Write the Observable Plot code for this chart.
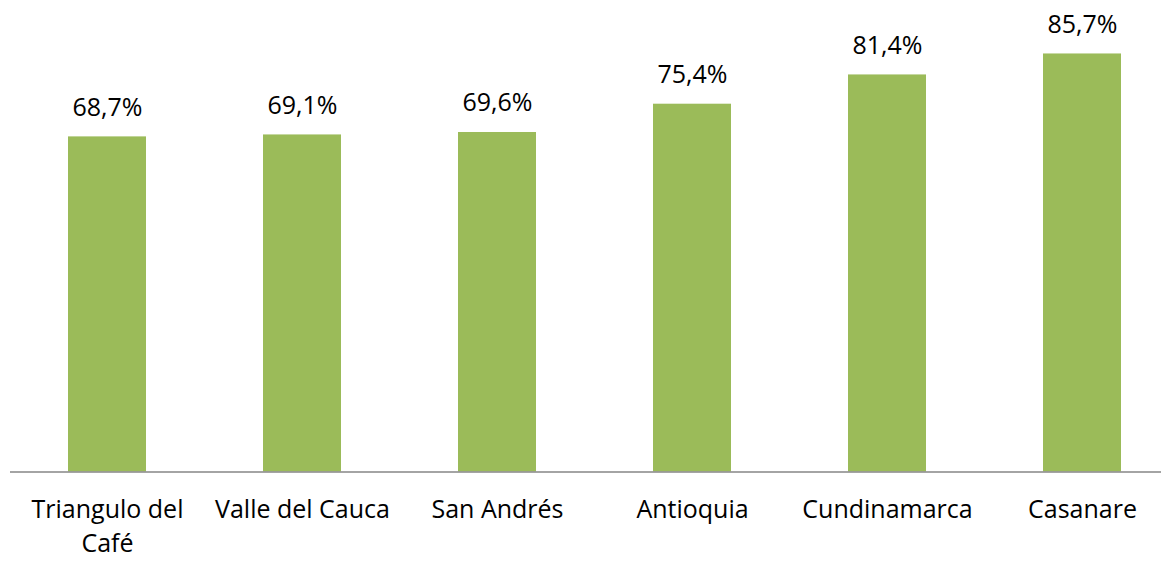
<!DOCTYPE html>
<html>
<head>
<meta charset="utf-8">
<script src="https://cdn.jsdelivr.net/npm/d3@7"></script>
<script src="https://cdn.jsdelivr.net/npm/@observablehq/plot@0.6"></script>
<style>
  html, body { margin: 0; padding: 0; background: #fff; }
  #chart { width: 1161px; height: 564px; overflow: hidden; }
</style>
</head>
<body>
<div id="chart"></div>
<script>
const categories = ["Triangulo del Café", "Valle del Cauca", "San Andrés", "Antioquia", "Cundinamarca", "Casanare"];
const tickLabels = ["Triangulo del\nCafé", "Valle del Cauca", "San Andrés", "Antioquia", "Cundinamarca", "Casanare"];
const values = [68.7, 69.1, 69.6, 75.4, 81.4, 85.7];

const data = categories.map((c, i) => ({category: c, value: values[i], label: tickLabels[i]}));
const fmt = v => v.toFixed(1).replace(".", ",") + "%";

const chart = Plot.plot({
  width: 1161,
  height: 564,
  marginTop: 0,
  marginLeft: 10,
  marginRight: 0,
  marginBottom: 92.5,
  style: {fontFamily: "'Open Sans', sans-serif", background: "#fff", color: "#000"},
  x: {domain: categories, range: [9.5, 1179.5], paddingInner: 0.6, paddingOuter: 0.3, label: null},
  y: {domain: [0, 96.66], range: [471.5, 0], axis: null},
  marks: [
    Plot.barY(data, {x: "category", y: "value", fill: "#9BBB59"}),
    Plot.text(data, {x: "category", y: "value", text: d => fmt(d.value), dy: -29, fontSize: 25, fill: "#000"}),
    Plot.ruleY([0], {stroke: "#868686", strokeWidth: 1.5}),
    Plot.axisX({tickSize: 0, tickPadding: 21, fontSize: 25, lineHeight: 1.38, fill: "#000",
      tickFormat: c => tickLabels[categories.indexOf(c)], textAnchor: "middle"})
  ]
});
document.getElementById("chart").appendChild(chart);
</script>
</body>
</html>
